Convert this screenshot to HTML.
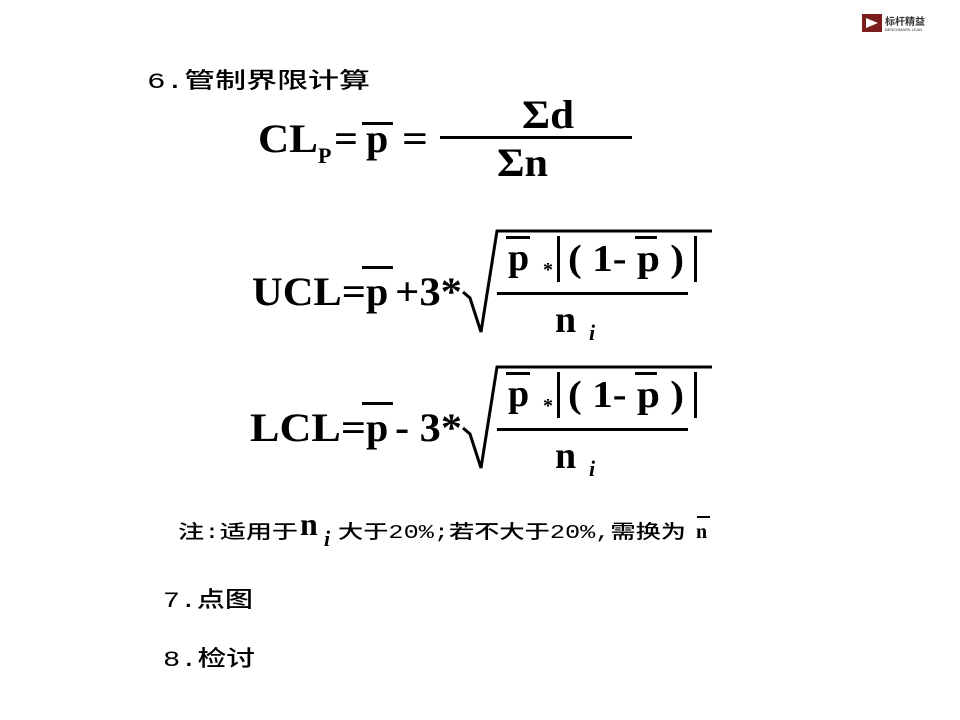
<!DOCTYPE html>
<html><head><meta charset="utf-8"><style>
html,body{margin:0;padding:0;background:#fff;width:960px;height:720px;overflow:hidden}
svg{display:block}
.s{font-family:"Liberation Serif",serif;font-weight:bold;fill:#000}
.c{font-family:"Liberation Mono","Noto Sans CJK SC",monospace;fill:#000;font-weight:500}
</style></head><body>
<svg width="960" height="720" viewBox="0 0 960 720">
<rect x="862" y="14" width="20" height="18" fill="#7a1d1d"/>
<path d="M866 18 L878 23 L866 28 Z" fill="#fff"/>
<text x="885" y="25" font-size="10" font-family="Noto Sans CJK SC,sans-serif" font-weight="bold" fill="#333">标杆精益</text>
<text x="885" y="31" font-size="4" font-family="Liberation Sans,sans-serif" fill="#333">BENCHMARK LEAN</text>

<text class="c" x="147" y="88" font-size="22" textLength="223" lengthAdjust="spacingAndGlyphs">6.管制界限计算</text>

<text class="s" x="258" y="152" font-size="40" textLength="60" lengthAdjust="spacingAndGlyphs">CL</text>
<text class="s" x="318" y="163" font-size="22">P</text>
<text class="s" x="334" y="152" font-size="40" textLength="24" lengthAdjust="spacingAndGlyphs">=</text>
<text class="s" x="366" y="152" font-size="40">p</text>
<rect x="362" y="122" width="31" height="3"/>
<text class="s" x="402" y="152" font-size="40" textLength="26" lengthAdjust="spacingAndGlyphs">=</text>
<rect x="440" y="136" width="192" height="3"/>
<text class="s" x="522" y="128" font-size="40" textLength="52" lengthAdjust="spacingAndGlyphs">Σd</text>
<text class="s" x="497" y="176" font-size="40" textLength="51" lengthAdjust="spacingAndGlyphs">Σn</text>

<g>
<text class="s" x="252" y="305" font-size="40" textLength="114" lengthAdjust="spacingAndGlyphs">UCL=</text>
<text class="s" x="366" y="305" font-size="40">p</text>
<rect x="362" y="266" width="31" height="3"/>
<text class="s" x="395" y="305" font-size="40" textLength="67" lengthAdjust="spacingAndGlyphs">+3*</text>
<polyline points="463,292 470,298 481,332 497,231 712,231" fill="none" stroke="#000" stroke-width="3"/>
<text class="s" x="508" y="270" font-size="38">p</text>
<rect x="506" y="236" width="24" height="3"/>
<text class="s" x="543" y="276" font-size="20">*</text>
<rect x="557" y="236" width="3" height="46"/>
<text class="s" x="568" y="271" font-size="38" textLength="116" lengthAdjust="spacingAndGlyphs">( 1- p )</text>
<rect x="635" y="236" width="22" height="3"/>
<rect x="694" y="236" width="3" height="46"/>
<rect x="497" y="292" width="191" height="3"/>
<text class="s" x="555" y="332" font-size="38">n</text>
<text class="s" x="589" y="340" font-size="22" font-style="italic">i</text>
</g>

<g transform="translate(0,136)">
<text class="s" x="250" y="305" font-size="40" textLength="116" lengthAdjust="spacingAndGlyphs">LCL=</text>
<text class="s" x="366" y="305" font-size="40">p</text>
<rect x="362" y="266" width="31" height="3"/>
<text class="s" x="395" y="305" font-size="40" textLength="67" lengthAdjust="spacingAndGlyphs">- 3*</text>
<polyline points="463,292 470,298 481,332 497,231 712,231" fill="none" stroke="#000" stroke-width="3"/>
<text class="s" x="508" y="270" font-size="38">p</text>
<rect x="506" y="236" width="24" height="3"/>
<text class="s" x="543" y="276" font-size="20">*</text>
<rect x="557" y="236" width="3" height="46"/>
<text class="s" x="568" y="271" font-size="38" textLength="116" lengthAdjust="spacingAndGlyphs">( 1- p )</text>
<rect x="635" y="236" width="22" height="3"/>
<rect x="694" y="236" width="3" height="46"/>
<rect x="497" y="292" width="191" height="3"/>
<text class="s" x="555" y="332" font-size="38">n</text>
<text class="s" x="589" y="340" font-size="22" font-style="italic">i</text>
</g>

<text class="c" x="178" y="538" font-size="19" textLength="120" lengthAdjust="spacingAndGlyphs">注:适用于</text>
<text class="s" x="300" y="535" font-size="32">n</text>
<text class="s" x="324" y="546" font-size="22" font-style="italic">i</text>
<text class="c" x="338" y="538" font-size="19" textLength="348" lengthAdjust="spacingAndGlyphs">大于20%;若不大于20%,需换为</text>
<text class="s" x="696" y="538" font-size="20">n</text>
<rect x="697" y="516" width="13" height="2"/>

<text class="c" x="163" y="607" font-size="22" textLength="90" lengthAdjust="spacingAndGlyphs">7.点图</text>
<text class="c" x="163" y="666" font-size="22" textLength="92" lengthAdjust="spacingAndGlyphs">8.检讨</text>
</svg>
</body></html>
